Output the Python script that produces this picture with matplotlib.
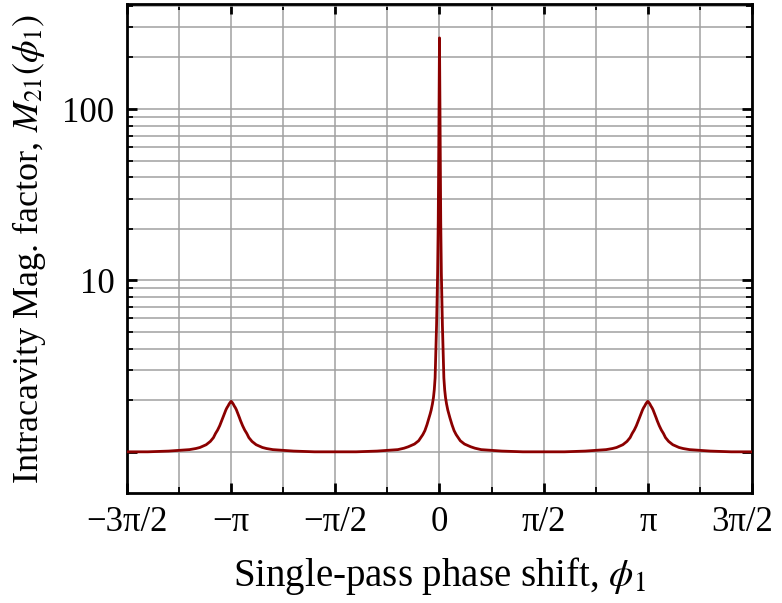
import matplotlib
matplotlib.use("Agg")
import matplotlib.pyplot as plt
import matplotlib.ticker as mticker
import matplotlib.transforms as mtransforms

# data (x in units of pi), left half then right half
phi_left = [-1.5, -1.4, -1.3, -1.25, -1.2, -1.17, -1.15, -1.12, -1.1, -1.085,
            -1.075, -1.065, -1.055, -1.05, -1.045, -1.04, -1.035, -1.03, -1.025, -1.02,
            -1.015, -1.01, -1.005, -1.0, -0.995, -0.99, -0.985, -0.98, -0.975, -0.97,
            -0.965, -0.96, -0.955, -0.95, -0.945, -0.935, -0.925, -0.915, -0.9, -0.88,
            -0.85, -0.83, -0.8, -0.75, -0.7, -0.6, -0.5, -0.4, -0.3, -0.25,
            -0.2, -0.17, -0.15, -0.12, -0.1, -0.08, -0.07, -0.06, -0.05, -0.045,
            -0.04, -0.034, -0.029, -0.025, -0.021, -0.018, -0.016, -0.014, -0.012, -0.0105,
            -0.009, -0.0075, -0.006, -0.0045, -0.003, -0.0015]
mag_left = [1.00, 1.00, 1.01, 1.02, 1.03, 1.045, 1.06, 1.10, 1.15, 1.21,
            1.28, 1.34, 1.42, 1.47, 1.52, 1.58, 1.64, 1.70, 1.76, 1.81,
            1.85, 1.90, 1.94, 1.97, 1.94, 1.90, 1.85, 1.81, 1.76, 1.70,
            1.64, 1.58, 1.52, 1.47, 1.42, 1.34, 1.28, 1.21, 1.15, 1.10,
            1.06, 1.045, 1.03, 1.02, 1.01, 1.00, 1.00, 1.00, 1.01, 1.02,
            1.03, 1.05, 1.07, 1.11, 1.16, 1.26, 1.33, 1.44, 1.58, 1.66,
            1.75, 1.90, 2.07, 2.3, 2.7, 3.6, 4.5, 5.5, 7.0, 8.8,
            11.0, 15.0, 22.0, 38.0, 70.0, 140.0]
phi_peak = [0.0]
mag_peak = [260.0]
phi_right = [0.0015, 0.003, 0.0045, 0.006, 0.0075, 0.009, 0.0105, 0.012, 0.014, 0.016,
             0.018, 0.021, 0.025, 0.029, 0.034, 0.04, 0.045, 0.05, 0.06, 0.07,
             0.08, 0.1, 0.12, 0.15, 0.17, 0.2, 0.25, 0.3, 0.4, 0.5,
             0.6, 0.7, 0.75, 0.8, 0.83, 0.85, 0.88, 0.9, 0.915, 0.925,
             0.935, 0.945, 0.95, 0.955, 0.96, 0.965, 0.97, 0.975, 0.98, 0.985,
             0.99, 0.995, 1.0, 1.005, 1.01, 1.015, 1.02, 1.025, 1.03, 1.035,
             1.04, 1.045, 1.05, 1.055, 1.065, 1.075, 1.085, 1.1, 1.12, 1.15,
             1.17, 1.2, 1.25, 1.3, 1.4, 1.5]
mag_right = [140.0, 70.0, 38.0, 22.0, 15.0, 11.0, 8.8, 7.0, 5.5, 4.5,
             3.6, 2.7, 2.3, 2.07, 1.90, 1.75, 1.66, 1.58, 1.44, 1.33,
             1.26, 1.16, 1.11, 1.07, 1.05, 1.03, 1.02, 1.01, 1.00, 1.00,
             1.00, 1.01, 1.02, 1.03, 1.045, 1.06, 1.10, 1.15, 1.21, 1.28,
             1.34, 1.42, 1.47, 1.52, 1.58, 1.64, 1.70, 1.76, 1.81, 1.85,
             1.90, 1.94, 1.97, 1.94, 1.90, 1.85, 1.81, 1.76, 1.70, 1.64,
             1.58, 1.52, 1.47, 1.42, 1.34, 1.28, 1.21, 1.15, 1.10, 1.06,
             1.045, 1.03, 1.02, 1.01, 1.00, 1.00]

x_ticks = [-1.5, -1.0, -0.5, 0.0, 0.5, 1.0, 1.5]
x_labels = ['\u22123\u03c0/2', '\u2212\u03c0', '\u2212\u03c0/2', '0', '\u03c0/2', '\u03c0', '3\u03c0/2']
y_major = [1, 10, 100]
y_labels = ['', '10', '100']

plt.rcParams['font.family'] = ['Liberation Serif', 'DejaVu Serif']
plt.rcParams['mathtext.fontset'] = 'stix'

fig = plt.figure(figsize=(7.82, 6.03), dpi=100)
ax = fig.add_axes([0.1624, 0.1824, 0.7992, 0.811])

phi = phi_left + phi_peak + phi_right
mag = mag_left + mag_peak + mag_right
ax.plot(phi, mag, color='#8b0000', lw=2.0, zorder=3)

ax.set_yscale('log')
ax.set_xlim(-1.5, 1.5)
ax.set_ylim(0.575, 410)

ax.xaxis.set_major_locator(mticker.FixedLocator(x_ticks))
ax.xaxis.set_major_formatter(mticker.FixedFormatter(x_labels))
ax.xaxis.set_minor_locator(mticker.MultipleLocator(0.25))

minor_y = [v * 10**k for k in range(0, 3) for v in range(2, 10) if v * 10**k <= 400]
ax.yaxis.set_major_locator(mticker.FixedLocator(y_major))
ax.yaxis.set_major_formatter(mticker.FixedFormatter(y_labels))
ax.yaxis.set_minor_locator(mticker.FixedLocator(minor_y))
ax.yaxis.set_minor_formatter(mticker.NullFormatter())

ax.grid(True, which='both', color='#a0a0a0', lw=1.1, zorder=0)
ax.set_axisbelow(True)

ax.tick_params(which='both', direction='in', top=True, right=True, labelsize=25, color='black')
ax.tick_params(which='major', length=7.5, width=2.0, pad=9)
ax.tick_params(which='minor', length=4.5, width=1.3)
for s in ax.spines.values():
    s.set_linewidth(2.0)

# nudge the last x label so it stays inside the figure
fig.canvas.draw()
last = ax.get_xticklabels()[-1]
last.set_transform(last.get_transform() + mtransforms.ScaledTranslation(-10 / 100, 0, fig.dpi_scale_trans))

ax.set_xlabel('Single-pass phase shift, $\\phi_1$', fontsize=28, labelpad=12)
ax.set_ylabel('Intracavity Mag. factor, $M_{21}(\\phi_1)$', fontsize=26, labelpad=10)

fig.savefig('out.png', dpi=100)
